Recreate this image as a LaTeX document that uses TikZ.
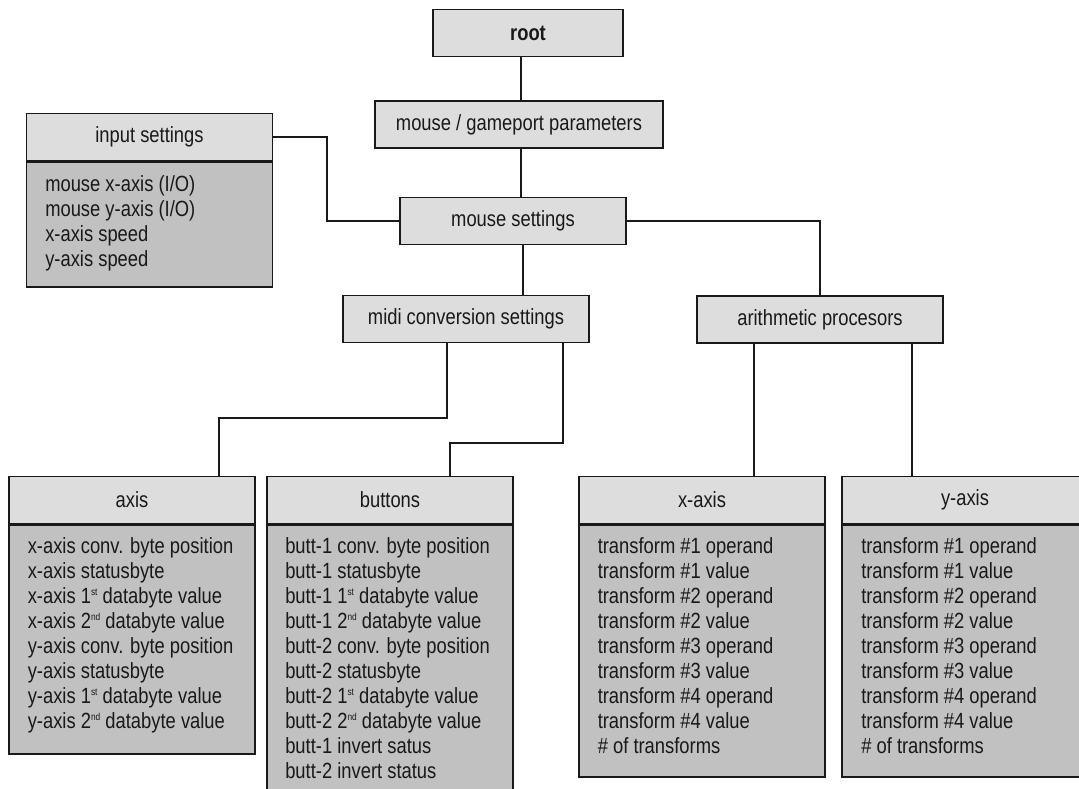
\documentclass[tikz,border=0pt]{standalone}
\usepackage{fontspec}
\setmainfont[FakeStretch=0.835]{Liberation Sans}
\definecolor{hdrgray}{RGB}{221,221,221}
\definecolor{bdygray}{RGB}{193,193,193}
\definecolor{ink}{RGB}{25,25,25}
\newcommand{\ordsup}[1]{\raisebox{6pt}{\fontsize{7.5}{7.5}\selectfont #1}}
\begin{document}
\begin{tikzpicture}[x=0.75pt,y=-0.75pt,
  box/.style={draw=ink, fill=hdrgray, line width=1.1pt, inner sep=0pt,
    minimum height=35.25pt, text=ink, font=\fontsize{16.5}{19}\selectfont},
  hdr/.style={box, minimum width=184.5pt},
  bdy/.style={draw=ink, fill=bdygray, line width=1.1pt, inner sep=0pt,
    minimum width=184.5pt, anchor=north},
  lst/.style={anchor=north west, inner sep=0pt, align=left, text=ink,
    font=\fontsize{16.5}{18.75}\selectfont},
  conn/.style={draw=ink, line width=1pt}]
\useasboundingbox (0,0) rectangle (1079,789);
\fill[white] (0,0) rectangle (1079,789);
\clip (0,0) rectangle (1079,789);

% upper chain
\node[box, minimum width=142.5pt, font=\fontsize{16.5}{19}\selectfont\bfseries] (root) at (528,33) {root};
\node[box, minimum width=216pt] (mgp) at (519,124.5) {mouse / gameport parameters};
\node[box, minimum width=169.5pt] (ms) at (513,221) {mouse settings};

% input settings
\node[hdr] (inH) at (149.5,137) {input settings};
\node[bdy, minimum height=93.75pt] (inB) at (inH.south) {};
\node[lst] (inT) at (45,170.2) {\rule{0pt}{16pt}mouse x-axis (I/O)\\mouse y-axis (I/O)\\x-axis speed\\y-axis speed};

% second level
\node[hdr] (midi) at (466,319) {midi conversion settings};
\node[hdr] (arith) at (820,319.5) {arithmetic procesors};

% axis
\node[hdr] (axH) at (132,500) {axis};
\node[bdy, minimum height=171.75pt] (axB) at (axH.south) {};
\node[lst] (axT) at (27.5,531.7) {\rule{0pt}{16pt}x-axis conv. byte position\\
x-axis statusbyte\\
x-axis 1\ordsup{st} databyte value\\
x-axis 2\ordsup{nd} databyte value\\
y-axis conv. byte position\\
y-axis statusbyte\\
y-axis 1\ordsup{st} databyte value\\
y-axis 2\ordsup{nd} databyte value};

% buttons
\node[hdr] (btH) at (390,500) {buttons};
\node[bdy, minimum height=209.25pt] (btB) at (btH.south) {};
\node[lst] (btT) at (285,531.7) {\rule{0pt}{16pt}butt-1 conv. byte position\\
butt-1 statusbyte\\
butt-1 1\ordsup{st} databyte value\\
butt-1 2\ordsup{nd} databyte value\\
butt-2 conv. byte position\\
butt-2 statusbyte\\
butt-2 1\ordsup{st} databyte value\\
butt-2 2\ordsup{nd} databyte value\\
butt-1 invert satus\\
butt-2 invert status};

% x-axis
\node[hdr] (xH) at (702,500) {x-axis};
\node[bdy, minimum height=189pt] (xB) at (xH.south) {};
\node[lst] (xT) at (597.5,531.7) {\rule{0pt}{16pt}transform \#1 operand\\
transform \#1 value\\
transform \#2 operand\\
transform \#2 value\\
transform \#3 operand\\
transform \#3 value\\
transform \#4 operand\\
transform \#4 value\\
\# of transforms};

% y-axis
\node[hdr] (yH) at (965,500) {y-axis};
\node[bdy, minimum height=189pt] (yB) at (yH.south) {};
\node[lst] (yT) at (861,531.7) {\rule{0pt}{16pt}transform \#1 operand\\
transform \#1 value\\
transform \#2 operand\\
transform \#2 value\\
transform \#3 operand\\
transform \#3 value\\
transform \#4 operand\\
transform \#4 value\\
\# of transforms};

% connector routing points
\coordinate (c1) at (521,0);
\coordinate (c2) at (523,0);
\coordinate (jin) at (327,180);
\coordinate (a1) at (447,418);
\coordinate (a2) at (219,418);
\coordinate (b1) at (563,443);
\coordinate (b2) at (450,443);
\coordinate (c3) at (754,0);
\coordinate (c4) at (912,0);

\draw[conn] (root.south -| c1) -- (mgp.north -| c1);
\draw[conn] (mgp.south -| c1) -- (ms.north -| c1);
\draw[conn] (ms.west) -| (jin) |- (inH.east);
\draw[conn] (ms.east) -| (arith.north);
\draw[conn] (ms.south -| c2) -- (midi.north -| c2);
\draw[conn] (midi.south -| a1) -- (a1) -- (a2) -- (axH.north -| a2);
\draw[conn] (midi.south -| b1) -- (b1) -- (b2) -- (btH.north -| b2);
\draw[conn] (arith.south -| c3) -- (xH.north -| c3);
\draw[conn] (arith.south -| c4) -- (yH.north -| c4);
\end{tikzpicture}
\end{document}
